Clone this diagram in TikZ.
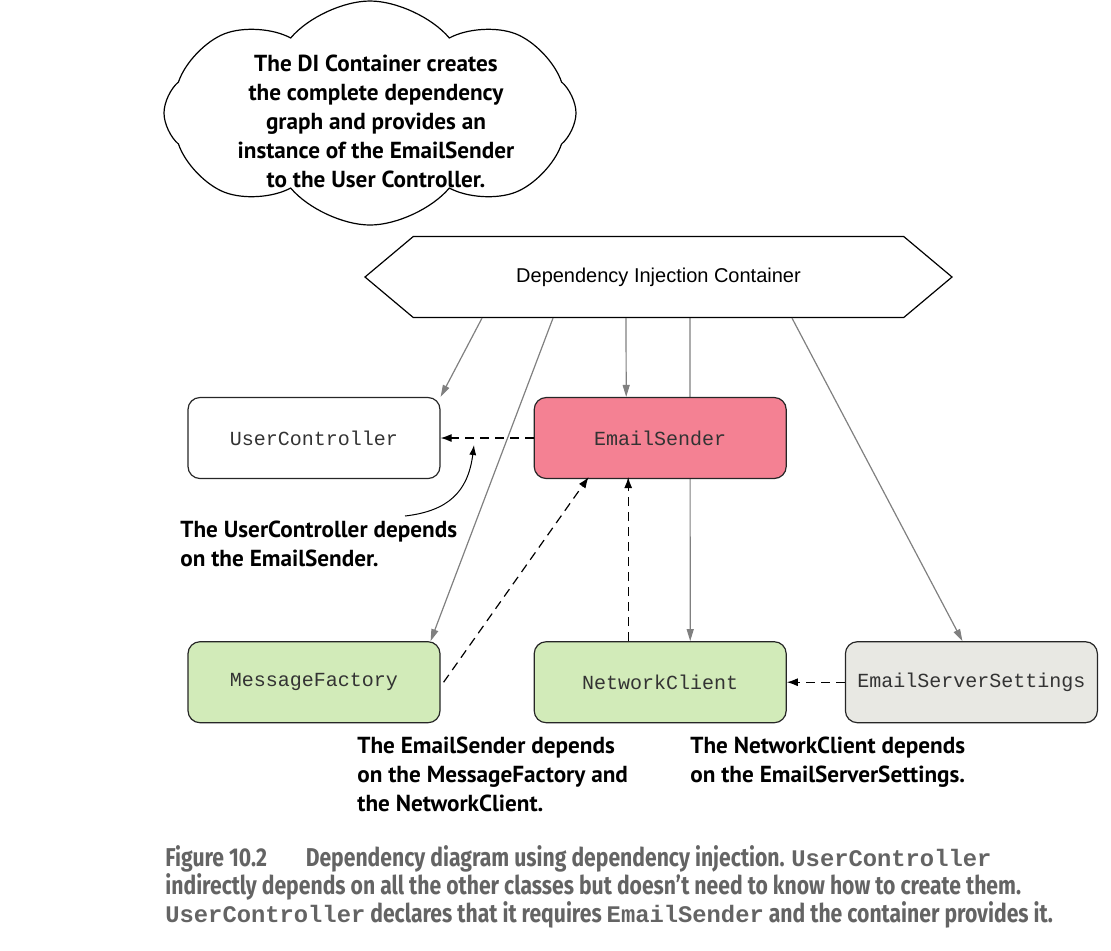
\documentclass[tikz,border=0pt]{standalone}
\usepackage{fontspec}
\setmainfont{Liberation Sans}
\setmonofont{Liberation Mono}
\newfontfamily\notefont{PT Sans}
\newfontfamily\capfont[FakeStretch=0.82]{Fira Sans}
\newfontfamily\capmono{Liberation Mono}
\usepackage{xcolor}
\usepackage{tikz}
\usetikzlibrary{arrows.meta,positioning,calc,shapes.symbols,backgrounds}

\definecolor{senderpink}{RGB}{244,129,147}
\definecolor{depgreen}{RGB}{210,235,185}
\definecolor{settingsgray}{RGB}{232,232,227}
\definecolor{captiongray}{RGB}{100,100,100}

\begin{document}
\begin{tikzpicture}
      [ x=0.5pt, y=-0.5pt,
        classbox/.style={draw=black!85, line width=0.6pt, rounded corners=6pt,
          minimum width=126pt, minimum height=40.5pt, inner sep=0pt,
          font=\ttfamily\fontsize{10}{12}\selectfont, text=black!80},
        provides/.style={-{Triangle[length=6pt,width=3.5pt]}, draw=black!50,
          line width=0.6pt},
        depends/.style={-{Latex[length=5.5pt,width=4pt]}, draw=black,
          line width=0.6pt, dash pattern=on 4.5pt off 3pt},
        note/.style={font=\notefont\bfseries\fontsize{11.6}{14.5}\selectfont,
          align=left, inner sep=0pt}
      ]
      \useasboundingbox (0,0) rectangle (1111,950);

      % thought bubble
      \node[cloud, draw, line width=0.6pt, cloud puffs=8, cloud puff arc=100,
            cloud ignores aspect, minimum width=206pt, minimum height=112pt,
            inner sep=0pt]          (bubble) at (370,113) {};
      \node[note, align=center]     (bubbletext) at (376,121)
            {The DI Container creates\\the complete dependency\\graph and provides an\\
             instance of the EmailSender\\to the User Controller.};

      % container
      \node[signal, signal to=west and east, signal pointer angle=80, draw,
            line width=0.6pt, minimum width=293.5pt, minimum height=40.5pt,
            inner sep=0pt, font=\fontsize{10}{12}\selectfont]
                                    (dic)  at (658.5,277)  {Dependency Injection Container};

      % classes
      \node[classbox]               (userc)    at (314,438)         {UserController};
      \node[classbox, fill=senderpink] (sender) [right=46.5pt of userc] {EmailSender};
      \node[classbox, fill=depgreen] (msgf)    [below=81pt of userc]  {MessageFactory};
      \node[classbox, fill=depgreen] (netc)    [below=81pt of sender] {NetworkClient};
      \node[classbox, fill=settingsgray] (settings) [right=29pt of netc] {EmailServerSettings};

      % container creates the instances
      \begin{scope}[on background layer]
        \path ($(dic.south)+(31.5,0)$) edge[provides] ($(netc.north)+(30,0)$);
      \end{scope}
      \path ($(dic.south)+(-176.5,0)$) edge[provides] (userc.north east)
            ($(dic.south)+(-105.5,0)$) edge[provides] ($(msgf.north east)+(-10,0)$)
            ($(dic.south)+(-32.5,0)$)  edge[provides] ($(sender.north)+(-34,0)$)
            ($(dic.south)+(133.5,0)$)  edge[provides] ($(settings.north)+(-9,0)$);

      % dependencies
      \path (sender.west)             edge[depends] (userc.east)
            ($(msgf.east)+(3,0)$)     edge[depends] ($(sender.south west)+(55,-2)$)
            ($(netc.north)+(-32,0)$)  edge[depends] ($(sender.south)+(-32,-2)$)
            (settings.west)           edge[depends] (netc.east);

      % notes
      \coordinate (tail) at (405,516);
      \coordinate (tip)  at (474,445);
      \draw[-{Latex[length=5pt,width=3.5pt]}, line width=0.5pt]
            (tail) .. controls (448,511) and (468,492) .. (tip);

      \node[note, anchor=north west] (usernote)  at (180,521)
            {The UserController depends\\on the EmailSender.};
      \node[note, anchor=north west] (sendernote) at (357,737)
            {The EmailSender depends\\on the MessageFactory and\\the NetworkClient.};
      \node[note, anchor=north west] (netnote)   at (690,737)
            {The NetworkClient depends\\on the EmailServerSettings.};

      % caption
      \node[anchor=north west, align=left, inner sep=0pt, text=captiongray,
            font=\capfont\bfseries\fontsize{12.9}{14}\selectfont] (caption) at (165,845)
            {Figure 10.2\hspace{1.5em}Dependency diagram using dependency injection.
             {\capmono\bfseries\fontsize{11.9}{14}\selectfont UserController}\\
             indirectly depends on all the other classes but doesn’t need to know how to create them.\\
             {\capmono\bfseries\fontsize{11.9}{14}\selectfont UserController} declares that it requires
             {\capmono\bfseries\fontsize{11.9}{14}\selectfont EmailSender} and the container provides it.};
\end{tikzpicture}
\end{document}
